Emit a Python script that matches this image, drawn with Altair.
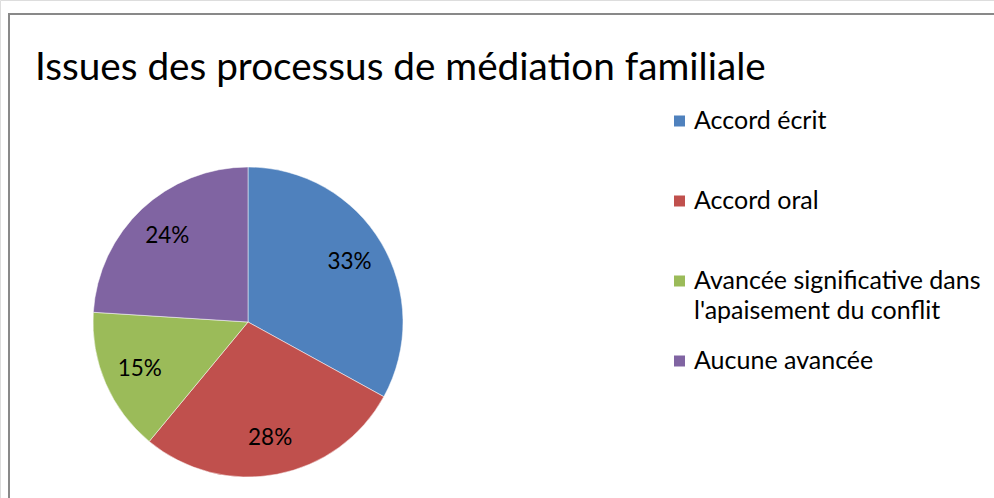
import altair as alt
import pandas as pd

TITLE = "Issues des processus de médiation familiale"
categories = ["Accord écrit", "Accord oral",
              "Avancée significative dans l'apaisement du conflit", "Aucune avancée"]
values = [33, 28, 15, 24]
labels = ["33%", "28%", "15%", "24%"]
colors = ["#4F81BD", "#C0504D", "#9BBB59", "#8064A2"]

df = pd.DataFrame({"cat": categories, "val": values, "lab": labels,
                   "idx": list(range(len(categories)))})

FONT = "Lato"
CX, CY, R = 248, 322, 155

cscale = alt.Scale(domain=categories, range=colors)

base = alt.Chart(df).encode(
    theta=alt.Theta("val:Q", stack=True),
    order=alt.Order("idx:Q"),
)

pie = base.mark_arc(radius=R, stroke="white", strokeWidth=0.5).encode(
    color=alt.Color("cat:N", scale=cscale, legend=None),
    x=alt.value(CX), y=alt.value(CY),
)

text = base.mark_text(radius=118, font=FONT, fontSize=22.5, color="#000000").encode(
    text="lab:N", x=alt.value(CX), y=alt.value(CY)
)

# legend built from the same category data
leg_y = alt.Y("cat:N", scale=alt.Scale(type="point", domain=categories,
                                        range=[121, 361], padding=0), axis=None)
leg_sym = alt.Chart(df).mark_square(size=121, opacity=1).encode(
    y=leg_y, x=alt.value(679.5),
    color=alt.Color("cat:N", scale=cscale, legend=None),
)
leg_txt = alt.Chart(df).transform_calculate(
    wrapped="length(datum.cat) > 30 ? [substring(datum.cat, 0, 26), substring(datum.cat, 27)] : datum.cat"
).mark_text(font=FONT, fontSize=25, align="left", baseline="middle",
            color="#000000", lineHeight=30).encode(
    y=leg_y, x=alt.value(694), text="wrapped:N",
)

frame_top = alt.Chart(pd.DataFrame({"a": [0]})).mark_rule(
    color="#898989", strokeWidth=2
).encode(x=alt.value(8), x2=alt.value(994), y=alt.value(14))
frame_left = alt.Chart(pd.DataFrame({"a": [0]})).mark_rule(
    color="#898989", strokeWidth=2
).encode(x=alt.value(9), y=alt.value(13), y2=alt.value(498))

title = alt.Chart(pd.DataFrame({"t": [TITLE]})).mark_text(
    font=FONT, fontSize=38.7, align="left", baseline="alphabetic", color="#000000"
).encode(text="t:N", x=alt.value(35), y=alt.value(80))

chart = alt.layer(frame_top, frame_left, title, pie, text, leg_sym, leg_txt).properties(
    width=994, height=498, autosize=alt.AutoSizeParams(type="none"),
    padding=0,
).configure_view(stroke=None).configure(background="white")

chart.save("out.html", embed_options={"renderer": "svg", "actions": False})
